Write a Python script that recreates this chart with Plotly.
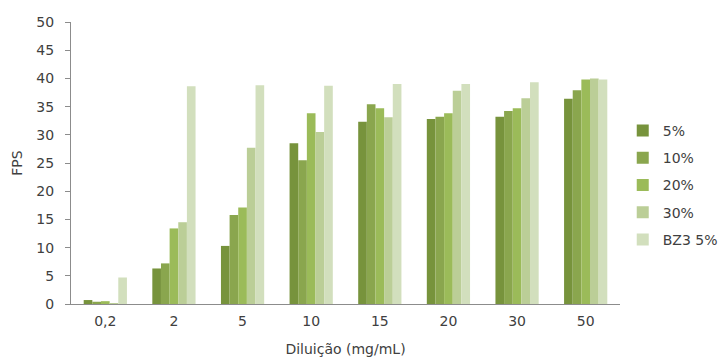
import plotly.graph_objects as go

categories = ["0,2", "2", "5", "10", "15", "20", "30", "50"]
series_names = ["5%", "10%", "20%", "30%", "BZ3 5%"]
s5 = [0.7, 6.3, 10.3, 28.5, 32.3, 32.8, 33.2, 36.4]
s10 = [0.4, 7.2, 15.8, 25.5, 35.4, 33.2, 34.2, 37.9]
s20 = [0.5, 13.4, 17.1, 33.8, 34.7, 33.8, 34.7, 39.8]
s30 = [0.1, 14.5, 27.7, 30.5, 33.1, 37.8, 36.5, 40.0]
bz3 = [4.7, 38.6, 38.8, 38.7, 39.0, 39.0, 39.3, 39.8]
series_values = [s5, s10, s20, s30, bz3]
colors = ["#77933C", "#8AA64E", "#9BBB59", "#BBCE97", "#D2DFBD"]
y_ticks = [0, 5, 10, 15, 20, 25, 30, 35, 40, 45, 50]

fig = go.Figure()
for i, (name, vals, col) in enumerate(zip(series_names, series_values, colors)):
    fig.add_trace(go.Bar(
        x=categories, y=vals, name=name, legendgroup=f"g{i}",
        marker=dict(color=col, line=dict(width=0)),
    ))

font = "DejaVu Sans, Verdana, sans-serif"
txt = "#404040"
fig.update_layout(
    width=721, height=360,
    margin=dict(l=71, r=101, t=22, b=56, autoexpand=False),
    paper_bgcolor="white", plot_bgcolor="white",
    barmode="group", bargap=0.37, bargroupgap=0,
    font=dict(family=font, size=14, color=txt),
    showlegend=True,
    legend=dict(x=1.005, y=0.422, xanchor="left", yanchor="middle",
                font=dict(size=14, color=txt),
                tracegroupgap=6, itemwidth=30, borderwidth=0),
    xaxis=dict(
        type="category", showline=True, linecolor="#8C8C8C", linewidth=1,
        ticks="", showgrid=False, tickfont=dict(size=14, color=txt),
        ticklabelstandoff=4,
        title=dict(text="Diluição (mg/mL)", font=dict(size=14, color=txt), standoff=16),
    ),
    yaxis=dict(
        range=[0, 50], tickvals=y_ticks, showline=True, linecolor="#8C8C8C", linewidth=1,
        ticks="outside", ticklen=5, tickcolor="#8C8C8C", showgrid=False, zeroline=False,
        tickfont=dict(size=14, color=txt), ticklabelstandoff=8,
        title=dict(text="FPS", font=dict(size=14, color=txt), standoff=10),
    ),
)

fig.write_html("out.html")
